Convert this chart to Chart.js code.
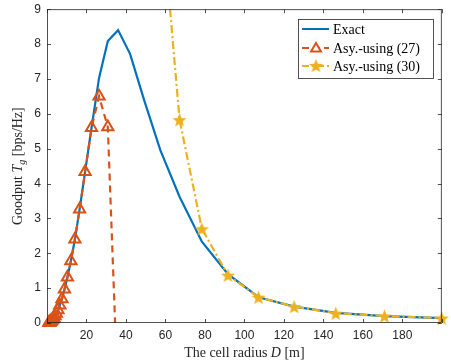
<!DOCTYPE html>
<html>
<head>
<meta charset="utf-8">
<script src="https://cdn.jsdelivr.net/npm/chart.js@4.4.1/dist/chart.umd.min.js"></script>
<style>
  html, body { margin: 0; padding: 0; background: #fff; }
  #wrap { width: 451px; height: 364px; }
</style>
</head>
<body>
<div id="wrap"><canvas id="goodputChart" width="451" height="364"></canvas></div>
<script>
// cell radius D [m] (log spaced sample points)
const radius = [1.00, 1.17, 1.37, 1.60, 1.87, 2.18, 2.55, 2.98, 3.48, 4.06,
                4.75, 5.55, 6.49, 7.58, 8.86, 10.35, 12.10, 14.14, 16.52, 19.31,
                22.56, 26.37, 30.81, 36.01, 42.08, 49.17, 57.46, 67.15, 78.47, 91.70,
                107.2, 125.2, 146.3, 171.0, 200.0];

// Exact goodput
const exactGoodput = [0.012, 0.016, 0.022, 0.030, 0.042, 0.057, 0.078, 0.106, 0.145, 0.20,
                      0.27, 0.37, 0.51, 0.69, 0.97, 1.31, 1.78, 2.40, 3.26, 4.34,
                      5.60, 7.03, 8.09, 8.40, 7.72, 6.40, 4.95, 3.62, 2.33, 1.40,
                      0.74, 0.47, 0.29, 0.20, 0.14];

// Asy.-using (27): valid for small D, drops to zero near D = 34.5
const asy27Radius = [1.00, 1.17, 1.37, 1.60, 1.87, 2.18, 2.55, 2.98, 3.48, 4.06,
                     4.75, 5.55, 6.49, 7.58, 8.86, 10.35, 12.10, 14.14, 16.52, 19.31,
                     22.56, 26.37, 30.81, 34.5];
const asy27Goodput = [0.012, 0.016, 0.022, 0.030, 0.042, 0.057, 0.078, 0.106, 0.145, 0.20,
                      0.27, 0.37, 0.51, 0.69, 0.97, 1.31, 1.78, 2.40, 3.26, 4.34,
                      5.60, 6.50, 5.62, 0.0];

// Asy.-using (30): valid for large D
const asy30Radius = [57.46, 67.15, 78.47, 91.70, 107.2, 125.2, 146.3, 171.0, 200.0];
const asy30Goodput = [12.2, 5.83, 2.70, 1.37, 0.74, 0.47, 0.28, 0.20, 0.14];

const xTicks = [0, 20, 40, 60, 80, 100, 120, 140, 160, 180, 200];
const yTicks = [0, 1, 2, 3, 4, 5, 6, 7, 8, 9];
const seriesNames = ['Exact', 'Asy.-using (27)', 'Asy.-using (30)'];

const BLUE = '#0072BD', ORANGE = '#D95319', YELLOW = '#EDB120', AXIS = '#262626';
const TICK_FONT = '"Liberation Sans", Arial, sans-serif';
const SERIF = '"Liberation Serif", "DejaVu Serif", serif';

function toPoints(xs, ys) {
    return xs.map((x, i) => ({ x: x, y: ys[i] }));
}

// filled pentagram marker like MATLAB 'p'
function makeStar(size, color) {
    const c = document.createElement('canvas');
    c.width = size; c.height = size;
    const g = c.getContext('2d');
    const cx = size / 2, cy = size / 2 + 0.8, R = size / 2, r = R * 0.42;
    g.beginPath();
    for (let i = 0; i < 10; i++) {
        const rad = i % 2 === 0 ? R : r;
        const a = -Math.PI / 2 + i * Math.PI / 5;
        const px = cx + rad * Math.cos(a), py = cy + rad * Math.sin(a);
        if (i === 0) g.moveTo(px, py); else g.lineTo(px, py);
    }
    g.closePath();
    g.fillStyle = color;
    g.fill();
    return c;
}
const starImg = makeStar(15, YELLOW);

// box, inward ticks, axis titles and legend (MATLAB look)
const matlabFrame = {
    id: 'matlabFrame',
    afterDraw(chart) {
        const ctx = chart.ctx;
        const a = chart.chartArea;
        const xs = chart.scales.x, ys = chart.scales.y;
        ctx.save();
        ctx.strokeStyle = AXIS;
        ctx.lineWidth = 0.8;
        ctx.strokeRect(a.left + 0.5, a.top + 0.5, a.right - a.left - 1, a.bottom - a.top - 1);
        ctx.beginPath();
        xTicks.forEach(v => {
            const px = Math.round(xs.getPixelForValue(v)) + 0.5;
            ctx.moveTo(px, a.bottom); ctx.lineTo(px, a.bottom - 4);
            ctx.moveTo(px, a.top); ctx.lineTo(px, a.top + 4);
        });
        yTicks.forEach(v => {
            const py = Math.round(ys.getPixelForValue(v)) + 0.5;
            ctx.moveTo(a.left, py); ctx.lineTo(a.left + 4, py);
            ctx.moveTo(a.right, py); ctx.lineTo(a.right - 4, py);
        });
        ctx.stroke();

        // x title
        ctx.fillStyle = AXIS;
        ctx.textBaseline = 'alphabetic';
        const parts = [['The cell radius ', ''], ['D', 'italic '], [' [m]', '']];
        let total = 0;
        parts.forEach(p => { ctx.font = p[1] + '14px ' + SERIF; total += ctx.measureText(p[0]).width; });
        let x = (a.left + a.right) / 2 - total / 2;
        parts.forEach(p => {
            ctx.font = p[1] + '14px ' + SERIF;
            ctx.fillText(p[0], x, 357);
            x += ctx.measureText(p[0]).width;
        });

        // y title, rotated
        ctx.save();
        ctx.translate(22, (a.top + a.bottom) / 2);
        ctx.rotate(-Math.PI / 2);
        const yParts = [['Goodput ', '14px ', 0], ['T', 'italic 14px ', 0], ['g', 'italic 10px ', 3], [' [bps/Hz]', '14px ', 0]];
        total = 0;
        yParts.forEach(p => { ctx.font = p[1] + SERIF; total += ctx.measureText(p[0]).width; });
        x = -total / 2;
        yParts.forEach(p => {
            ctx.font = p[1] + SERIF;
            ctx.fillText(p[0], x, p[2]);
            x += ctx.measureText(p[0]).width;
        });
        ctx.restore();

        // legend
        const lx = 298, ly = 19, lw = 135, lh = 59;
        ctx.fillStyle = '#fff';
        ctx.fillRect(lx, ly, lw, lh);
        ctx.strokeStyle = AXIS;
        ctx.lineWidth = 0.8;
        ctx.strokeRect(lx + 0.5, ly + 0.5, lw, lh);
        const rows = [29, 48, 66];
        ctx.lineWidth = 2;
        // Exact
        ctx.strokeStyle = BLUE;
        ctx.setLineDash([]);
        ctx.beginPath(); ctx.moveTo(302, rows[0]); ctx.lineTo(329, rows[0]); ctx.stroke();
        // Asy 27
        ctx.strokeStyle = ORANGE;
        ctx.setLineDash([7, 4]);
        ctx.beginPath(); ctx.moveTo(302, rows[1]); ctx.lineTo(329, rows[1]); ctx.stroke();
        ctx.setLineDash([]);
        ctx.lineWidth = 2;
        ctx.beginPath();
        ctx.moveTo(316, rows[1] - 5); ctx.lineTo(321, rows[1] + 3.5); ctx.lineTo(311, rows[1] + 3.5); ctx.closePath();
        ctx.fillStyle = '#fff'; ctx.fill(); ctx.stroke();
        // Asy 30
        ctx.strokeStyle = YELLOW;
        ctx.lineWidth = 2;
        ctx.setLineDash([7, 3, 2, 3]);
        ctx.beginPath(); ctx.moveTo(302, rows[2]); ctx.lineTo(329, rows[2]); ctx.stroke();
        ctx.setLineDash([]);
        ctx.drawImage(starImg, 316 - 7.5, rows[2] - 8);
        // texts
        ctx.fillStyle = '#000';
        ctx.font = '14px ' + SERIF;
        ctx.textBaseline = 'middle';
        seriesNames.forEach((n, i) => ctx.fillText(n, 333, rows[i] + 1));
        ctx.restore();
    }
};

new Chart(document.getElementById('goodputChart'), {
    type: 'line',
    data: {
        datasets: [
            {
                label: seriesNames[0],
                data: toPoints(radius, exactGoodput),
                borderColor: BLUE,
                borderWidth: 2.2,
                pointRadius: 0,
                tension: 0,
                order: 3
            },
            {
                label: seriesNames[1],
                data: toPoints(asy27Radius, asy27Goodput),
                borderColor: ORANGE,
                borderWidth: 2.2,
                borderDash: [7, 5],
                pointStyle: 'triangle',
                pointRadius: asy27Goodput.map((v, i) => i === asy27Goodput.length - 1 ? 0 : 6.5),
                pointBorderWidth: 2,
                pointBorderColor: ORANGE,
                pointBackgroundColor: 'rgba(255,255,255,0)',
                tension: 0,
                clip: { left: 8, top: 0, right: 0, bottom: 6 },
                order: 2
            },
            {
                label: seriesNames[2],
                data: toPoints(asy30Radius, asy30Goodput),
                borderColor: YELLOW,
                borderWidth: 2.2,
                borderDash: [8, 3, 2, 3],
                pointStyle: starImg,
                pointRadius: 7,
                tension: 0,
                clip: { left: 0, top: 0, right: 10, bottom: 6 },
                order: 1
            }
        ]
    },
    options: {
        responsive: false,
        animation: false,
        layout: { padding: { top: 8, right: 5, left: 0, bottom: 0 } },
        plugins: { legend: { display: false }, tooltip: { enabled: false } },
        scales: {
            x: {
                type: 'linear',
                min: 0,
                max: 200,
                grid: { display: false, drawTicks: false },
                border: { display: false },
                afterBuildTicks: s => { s.ticks = xTicks.map(v => ({ value: v })); },
                ticks: {
                    autoSkip: false,
                    maxRotation: 0,
                    padding: 5,
                    color: AXIS,
                    font: { family: TICK_FONT, size: 12 },
                    callback: v => (v === 0 || v === 200) ? '' : String(v)
                },
                afterFit: s => { s.height = 41; s.paddingLeft = 0; s.paddingRight = 0; }
            },
            y: {
                type: 'linear',
                min: 0,
                max: 9,
                grid: { display: false, drawTicks: false },
                border: { display: false },
                afterBuildTicks: s => { s.ticks = yTicks.map(v => ({ value: v })); },
                ticks: {
                    padding: 6,
                    color: AXIS,
                    font: { family: TICK_FONT, size: 12 },
                    callback: v => String(v)
                },
                afterFit: s => { s.width = 47; s.paddingTop = 0; s.paddingBottom = 0; }
            }
        }
    },
    plugins: [matlabFrame]
});
</script>
</body>
</html>
